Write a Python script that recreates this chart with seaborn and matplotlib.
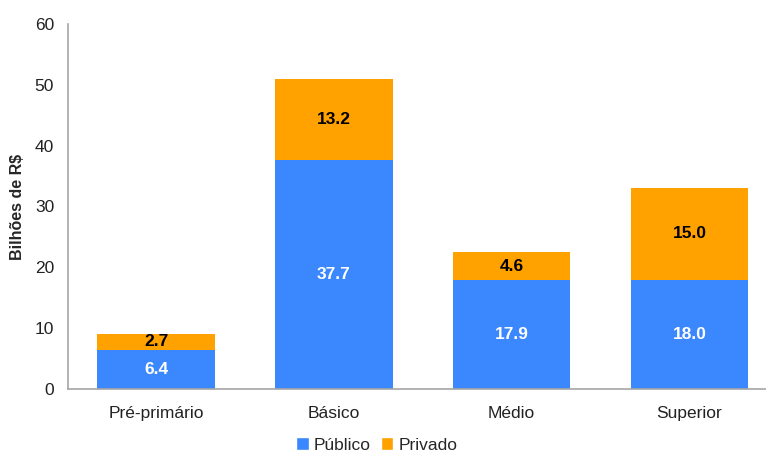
import matplotlib
matplotlib.use("Agg")
import matplotlib.pyplot as plt
import seaborn as sns
import pandas as pd
from matplotlib.patches import Patch

categories = ["Pré-primário", "Básico", "Médio", "Superior"]
publico = [6.4, 37.7, 17.9, 18.0]
privado = [2.7, 13.2, 4.6, 15.0]

BLUE = "#3A87FE"
ORANGE = "#FFA200"

df = pd.DataFrame({"cat": categories, "pub": publico, "priv": privado})
df["total"] = df["pub"] + df["priv"]

sns.set_theme(style="white")
plt.rcParams["font.family"] = ["Liberation Sans", "DejaVu Sans"]

fig = plt.figure(figsize=(7.66, 4.53), dpi=100)
ax = fig.add_axes([68 / 766, 64 / 453, 698 / 766, 365 / 453])

# stacked bars: total (private on top) drawn first, public over it
sns.barplot(data=df, x="cat", y="total", color=ORANGE, width=0.66,
            saturation=1, linewidth=0, ax=ax)
sns.barplot(data=df, x="cat", y="pub", color=BLUE, width=0.66,
            saturation=1, linewidth=0, ax=ax)

for i, row in df.iterrows():
    ax.text(i, row["pub"] / 2, f"{row['pub']:.1f}", ha="center", va="center",
            color="white", fontsize=12.5, fontweight="bold")
    ax.text(i, row["pub"] + row["priv"] / 2, f"{row['priv']:.1f}",
            ha="center", va="center", color="black", fontsize=12.5,
            fontweight="bold")

ax.set_xlim(-0.495, 3.43)
ax.set_ylim(0, 60)
ax.set_yticks(range(0, 61, 10))
ax.set_xlabel("")
ax.set_ylabel("Bilhões de R$", fontsize=11.5, fontweight="bold")
ax.yaxis.set_label_coords(-43 / 698, 0.5)
ax.tick_params(axis="both", length=0, labelsize=12.5, colors="#222222")
ax.tick_params(axis="y", pad=10)
ax.tick_params(axis="x", pad=12)

for s in ["top", "right"]:
    ax.spines[s].set_visible(False)
for s in ["left", "bottom"]:
    ax.spines[s].set_color("#A6A6A6")
    ax.spines[s].set_linewidth(1.2)

handles = [Patch(facecolor=BLUE, label="Público"),
           Patch(facecolor=ORANGE, label="Privado")]
fig.legend(handles=handles, loc="center", bbox_to_anchor=(377 / 766, 1 - 445 / 453),
           ncol=2, frameon=False, fontsize=12.5, handlelength=0.7, handleheight=0.7,
           handletextpad=0.3, columnspacing=0.6)

fig.savefig("out.png", dpi=100)
